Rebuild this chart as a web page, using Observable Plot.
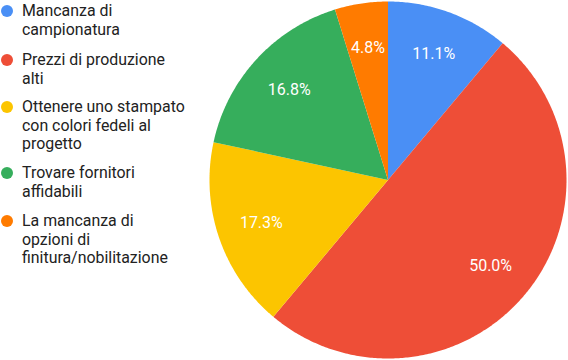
<!DOCTYPE html>
<html>
<head>
<meta charset="utf-8">
<script src="https://cdn.jsdelivr.net/npm/d3@7"></script>
<script src="https://cdn.jsdelivr.net/npm/@observablehq/plot@0.6"></script>
<style>
  html, body { margin: 0; padding: 0; background: #fff; }
  #wrap { position: relative; width: 568px; height: 360px; overflow: hidden; }
  #chart { position: absolute; left: 0; top: 0; }
  #legend { position: absolute; left: 0; top: 0; font-family: Roboto, sans-serif; font-size: 15.9px; color: #222; }
  .item { position: absolute; left: 0; white-space: nowrap; }
  .dot { position: absolute; left: 1px; width: 12px; height: 12px; border-radius: 50%; }
  .txt { position: absolute; left: 22px; line-height: 18.5px; }
</style>
</head>
<body>
<div id="wrap"><div id="chart"></div><div id="legend"></div></div>
<script>
const categories = [
  "Mancanza di campionatura",
  "Prezzi di produzione alti",
  "Ottenere uno stampato con colori fedeli al progetto",
  "Trovare fornitori affidabili",
  "La mancanza di opzioni di finitura/nobilitazione"
];
const legendLines = [
  ["Mancanza di", "campionatura"],
  ["Prezzi di produzione", "alti"],
  ["Ottenere uno stampato", "con colori fedeli al", "progetto"],
  ["Trovare fornitori", "affidabili"],
  ["La mancanza di", "opzioni di", "finitura/nobilitazione"]
];
const values = [11.1, 50.0, 17.3, 16.8, 4.8];
const labels = ["11.1%", "50.0%", "17.3%", "16.8%", "4.8%"];
const colors = ["#4A8FF5", "#EE4E37", "#FCC500", "#36AE5C", "#FF7B00"];

// pie geometry (angles clockwise from 12 o'clock)
const pie = d3.pie().sort(null).value(d => d)(values);
const slicePts = [];
const labelPts = [];
pie.forEach((p, i) => {
  const n = Math.max(2, Math.ceil((p.endAngle - p.startAngle) / 0.01));
  slicePts.push({cat: categories[i], x: 0, y: 0});
  for (let k = 0; k <= n; k++) {
    const a = p.startAngle + (p.endAngle - p.startAngle) * k / n;
    slicePts.push({cat: categories[i], x: Math.sin(a), y: Math.cos(a)});
  }
  const m = (p.startAngle + p.endAngle) / 2;
  labelPts.push({cat: categories[i], label: labels[i], x: 0.75 * Math.sin(m), y: 0.75 * Math.cos(m)});
});

const chart = Plot.plot({
  width: 568,
  height: 360,
  marginLeft: 209,
  marginRight: 2,
  marginTop: 1,
  marginBottom: 2,
  x: {domain: [-1, 1], axis: null},
  y: {domain: [-1, 1], axis: null},
  color: {domain: categories, range: colors},
  marks: [
    Plot.line(slicePts, {x: "x", y: "y", z: "cat", fill: "cat", stroke: "none", curve: "linear"}),
    Plot.text(labelPts, {x: "x", y: "y", text: "label", fill: "white", fontSize: 16, fontFamily: "Roboto, sans-serif"})
  ]
});
document.getElementById("chart").appendChild(chart);

// legend
const tops = [11, 60, 107, 173, 221];
const legend = d3.select("#legend");
categories.forEach((c, i) => {
  const it = legend.append("div").attr("class", "item").style("top", (tops[i] - 9) + "px");
  it.append("div").attr("class", "dot").style("top", "3px").style("background", colors[i]);
  it.append("div").attr("class", "txt").html(legendLines[i].join("<br>"));
});
</script>
</body>
</html>
